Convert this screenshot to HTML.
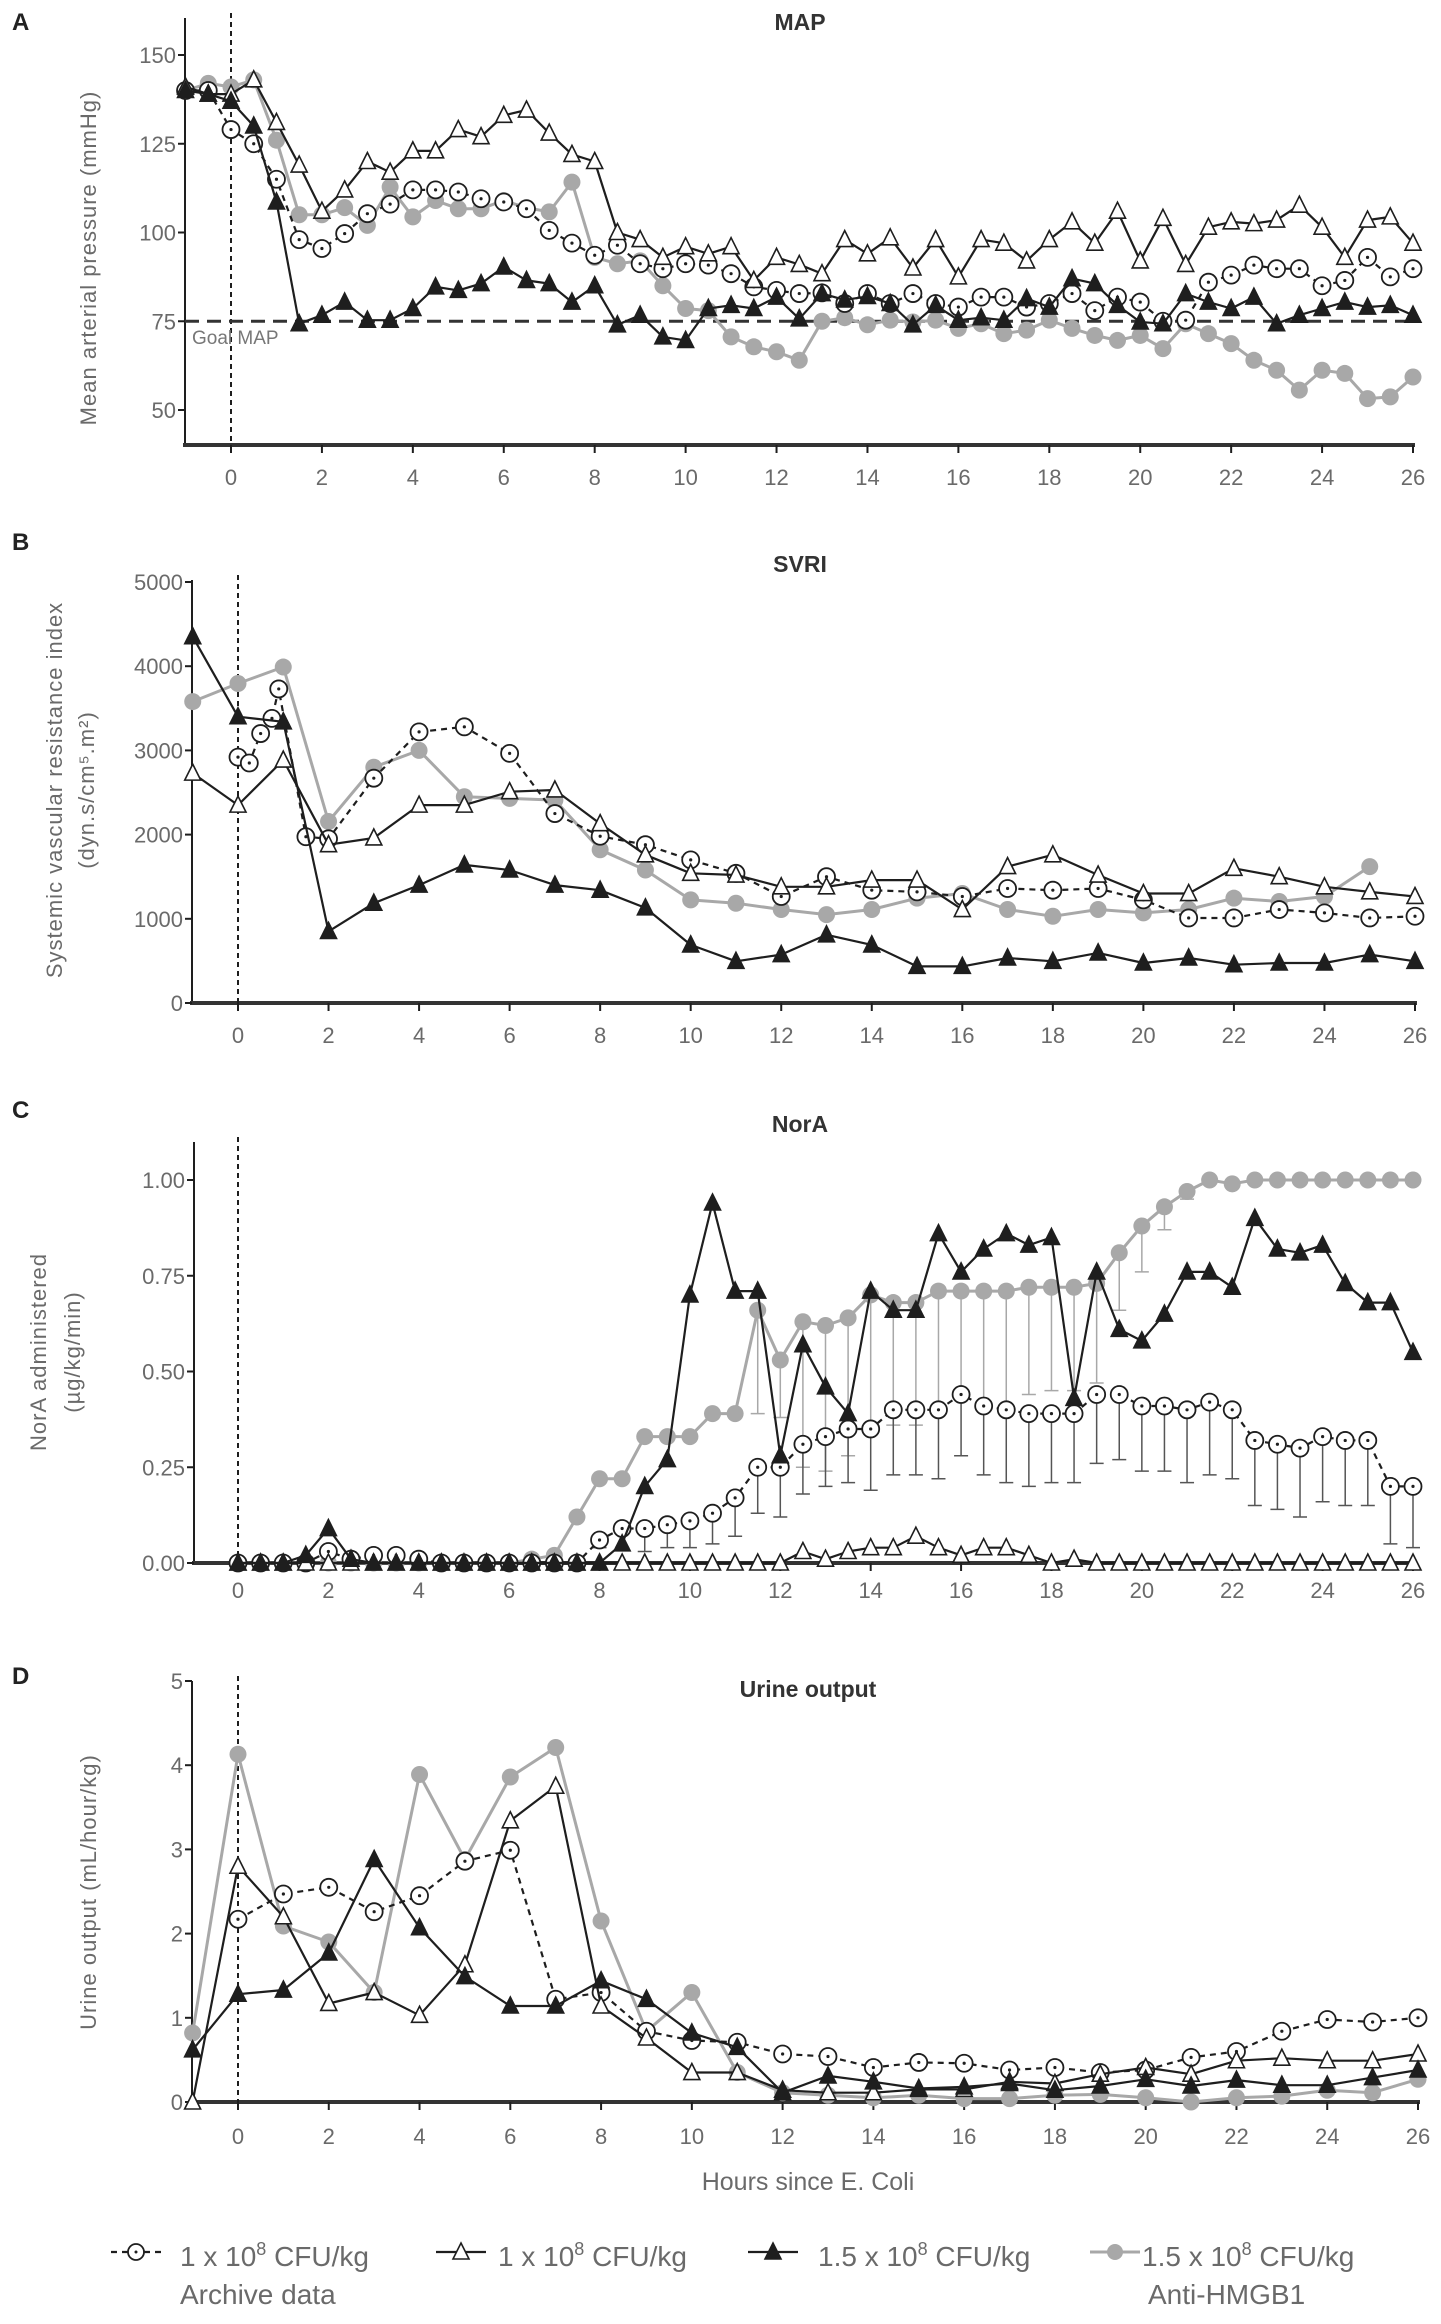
<!DOCTYPE html>
<html><head><meta charset="utf-8"><style>
html,body{margin:0;padding:0;background:#fff}
svg{display:block;font-family:"Liberation Sans",sans-serif}
</style></head><body>
<svg id="fig" width="1441" height="2324" viewBox="0 0 1441 2324" xmlns="http://www.w3.org/2000/svg"></svg>
<script>
// ---------- DATA ----------
const hoursHalf = [-1,-0.5,0,0.5,1,1.5,2,2.5,3,3.5,4,4.5,5,5.5,6,6.5,7,7.5,8,8.5,9,9.5,10,10.5,11,11.5,12,12.5,13,13.5,14,14.5,15,15.5,16,16.5,17,17.5,18,18.5,19,19.5,20,20.5,21,21.5,22,22.5,23,23.5,24,24.5,25,25.5,26];
const mapArchive = [140,140,129,125,115,98,95.5,99.7,105.3,108,112,112,111.4,109.5,108.6,106.7,100.6,97,93.6,96.4,91.2,89.8,91.2,90.8,88.4,84.7,83.7,82.8,83,80,82.8,80,82.8,80,79,81.8,81.8,79,80,82.8,78,81.8,80.4,75,75.3,86,88,90.8,89.8,89.8,85,86.5,93,87.5,89.8];
const mapLow = [141,139,139,143,131,119,106,112,120,117,123,123,129,127,133,134.5,128,122,120,100,98,93,96,94,96,86.5,93,91,88.4,98,94,98.5,90,98,87.5,98,97,92,98,103,97,106,92,104,91,101.5,103,102.5,103.5,107.7,101.5,93,103.5,104.4,97];
const mapHigh = [140,139,137,130,108.6,74.3,76.7,80.4,75.3,75.3,78.6,84.7,83.7,85.6,90.3,86.5,85.6,80.4,85,74,76.7,70.6,69.6,78.6,79.5,78.6,81.8,75.7,82.8,81,82,80,74,79.5,75.3,76,75.3,81.4,79,87,85.6,79.5,74.8,74.3,82.8,80.4,78.6,81.8,74.3,76.7,78.6,80.4,79,79.5,76.7];
const mapHmgb = [140,142,141,143,126,105,105,107,102,112.8,104.4,109,106.7,106.7,109,107,105.8,114.2,93,91.2,92,85,78.6,78,70.6,67.8,66.4,64,75,76,74,75.3,74.8,75.3,73,74.3,71.5,72.5,75.3,73,71,69.6,71,67.3,74.3,71.5,68.7,64,61.2,55.6,61.2,60.3,53.2,53.7,59.3];
const mapTicks = [50,75,100,125,150];

const hoursFull = [-1,0,1,2,3,4,5,6,7,8,9,10,11,12,13,14,15,16,17,18,19,20,21,22,23,24,25,26];
const svriArchiveHours = [0,0.25,0.5,0.75,0.9,1.5,2,3,4,5,6,7,8,9,10,11,12,13,14,15,16,17,18,19,20,21,22,23,24,25,26];
const svriArchive = [2920,2850,3200,3380,3730,1975,1950,2670,3220,3280,2965,2250,1980,1880,1700,1540,1265,1500,1340,1320,1265,1360,1340,1360,1225,1010,1010,1110,1070,1010,1030];
const svriLow = [2730,2350,2885,1880,1960,2350,2350,2510,2530,2130,1760,1540,1520,1380,1380,1460,1460,1110,1620,1760,1520,1300,1300,1600,1500,1380,1320,1265];
const svriHigh = [4350,3400,3340,850,1185,1400,1640,1580,1400,1340,1130,690,495,575,810,690,435,435,535,495,595,475,535,455,475,475,575,495];
const svriHmgbHours = [-1,0,1,2,3,4,5,6,7,8,9,10,11,12,13,14,15,16,17,18,19,20,21,22,23,24,25];
const svriHmgb = [3580,3795,3990,2155,2800,3000,2450,2430,2410,1820,1580,1225,1185,1110,1050,1110,1245,1300,1110,1030,1110,1070,1110,1245,1205,1265,1620];
const svriTicks = [0,1000,2000,3000,4000,5000];

const hoursNor = [0,0.5,1,1.5,2,2.5,3,3.5,4,4.5,5,5.5,6,6.5,7,7.5,8,8.5,9,9.5,10,10.5,11,11.5,12,12.5,13,13.5,14,14.5,15,15.5,16,16.5,17,17.5,18,18.5,19,19.5,20,20.5,21,21.5,22,22.5,23,23.5,24,24.5,25,25.5,26];
const norArchive = [0,0,0,0,0.03,0.01,0.02,0.02,0.01,0,0,0,0,0,0,0,0.06,0.09,0.09,0.10,0.11,0.13,0.17,0.25,0.25,0.31,0.33,0.35,0.35,0.40,0.40,0.40,0.44,0.41,0.40,0.39,0.39,0.39,0.44,0.44,0.41,0.41,0.40,0.42,0.40,0.32,0.31,0.30,0.33,0.32,0.32,0.20,0.20];
const norArchiveErr = [0,0,0,0,0,0,0,0,0,0,0,0,0,0,0,0,0.02,0.05,0.06,0.06,0.07,0.08,0.10,0.12,0.13,0.13,0.13,0.14,0.16,0.17,0.17,0.18,0.16,0.18,0.19,0.19,0.18,0.18,0.18,0.17,0.17,0.17,0.19,0.19,0.18,0.17,0.17,0.18,0.17,0.17,0.17,0.15,0.16];
const norLow = [0,0,0,0,0,0,0,0,0,0,0,0,0,0,0,0,0,0,0,0,0,0,0,0,0,0.03,0.01,0.03,0.04,0.04,0.07,0.04,0.02,0.04,0.04,0.02,0,0.01,0,0,0,0,0,0,0,0,0,0,0,0,0,0,0];
const norHigh = [0,0,0,0.02,0.09,0.01,0,0,0,0,0,0,0,0,0,0,0,0.05,0.20,0.27,0.70,0.94,0.71,0.71,0.28,0.57,0.46,0.39,0.71,0.66,0.66,0.86,0.76,0.82,0.86,0.83,0.85,0.43,0.76,0.61,0.58,0.65,0.76,0.76,0.72,0.90,0.82,0.81,0.83,0.73,0.68,0.68,0.55];
const norHmgb = [0,0,0,0,0,0,0,0,0,0,0,0,0,0.01,0.02,0.12,0.22,0.22,0.33,0.33,0.33,0.39,0.39,0.66,0.53,0.63,0.62,0.64,0.70,0.68,0.68,0.71,0.71,0.71,0.71,0.72,0.72,0.72,0.73,0.81,0.88,0.93,0.97,1.0,0.99,1.0,1.0,1.0,1.0,1.0,1.0,1.0,1.0];
const norHmgbErr = [0,0,0,0,0,0,0,0,0,0,0,0,0,0,0,0,0,0,0,0,0,0,0,0.27,0.15,0.38,0.38,0.36,0.35,0.32,0.32,0.30,0.27,0.30,0.30,0.28,0.27,0.27,0.26,0.15,0.12,0.06,0.02,0,0,0,0,0,0,0,0,0,0];
const norTicks = [0,0.25,0.5,0.75,1.0];
const norTickLabels = ["0.00","0.25","0.50","0.75","1.00"];

const urineArchiveHours = [0,1,2,3,4,5,6,7,8,9,10,11,12,13,14,15,16,17,18,19,20,21,22,23,24,25,26];
const urineArchive = [2.17,2.47,2.55,2.26,2.45,2.86,2.99,1.22,1.30,0.84,0.73,0.71,0.57,0.54,0.41,0.47,0.46,0.38,0.41,0.35,0.38,0.53,0.60,0.84,0.98,0.95,1.0];
const urineLow = [0,2.80,2.2,1.17,1.30,1.03,1.63,3.34,3.75,1.14,0.76,0.35,0.35,0.14,0.11,0.11,0.15,0.15,0.24,0.22,0.33,0.41,0.33,0.49,0.52,0.49,0.49,0.57];
const urineHigh = [0.62,1.28,1.33,1.77,2.88,2.07,1.49,1.14,1.14,1.44,1.22,0.82,0.65,0.11,0.31,0.24,0.16,0.18,0.22,0.14,0.19,0.27,0.19,0.26,0.20,0.20,0.29,0.38];
const urineHmgb = [0.82,4.13,2.09,1.90,1.30,3.89,2.88,3.86,4.21,2.15,0.84,1.30,0.35,0.11,0.08,0.05,0.08,0.04,0.04,0.08,0.09,0.05,0,0.05,0.07,0.14,0.11,0.27];
const urineTicks = [0,1,2,3,4,5];

const xTicks = [0,2,4,6,8,10,12,14,16,18,20,22,24,26];

// ---------- DRAWING ----------
const NS = "http://www.w3.org/2000/svg";
const svg = document.getElementById("fig");
const BLACK = "#1e1e1e", GRAY = "#a8a8a8", TXT = "#6a6a6a";
function mk(tag, attrs, parent) {
  const e = document.createElementNS(NS, tag);
  for (const k in attrs) e.setAttribute(k, attrs[k]);
  (parent || svg).appendChild(e);
  return e;
}
function txt(s, x, y, size, fill, anchor, parent, extra) {
  const t = mk("text", Object.assign({x: x, y: y, "font-size": size, fill: fill, "text-anchor": anchor || "middle"}, extra || {}), parent);
  t.textContent = s;
  return t;
}

function makeAxes(p) {
  const g = mk("g", {});
  
  
  p.xs = h => p.x0 + (p.x26 - p.x0) * h / 26;
  p.ys = v => p.yZero - (v - p.vZero) * p.pxPerUnit;
  const lt = txt(p.letter, 12, p.letterY, 24, "#222", "start", g, {"font-weight": "bold"});
  
  
  const tt = txt(p.title, p.titleX, p.titleY, 23, "#333", "middle", g, {"font-weight": "bold"});
  
  
  const ya = mk("line", {x1: p.axisX, x2: p.axisX, y1: p.axisTop, y2: p.axisBottom, stroke: BLACK, "stroke-width": 2}, g);
  
  
  const xa = mk("line", {x1: p.axisX - 2, x2: p.x26 + 2, y1: p.axisBottom, y2: p.axisBottom, stroke: "#333", "stroke-width": 4}, g);
  
  
  p.yTicks.forEach((v, i) => {
    const y = p.ys(v);
    mk("line", {x1: p.axisX - 7, x2: p.axisX, y1: y, y2: y, stroke: BLACK, "stroke-width": 2}, g);
    const l = txt(p.yLabels ? p.yLabels[i] : String(v), p.axisX - 9, y + 8, 22, TXT, "end", g);
    
    
  });
  xTicks.forEach(h => {
    const x = p.xs(h);
    mk("line", {x1: x, x2: x, y1: p.axisBottom, y2: p.axisBottom + 8, stroke: BLACK, "stroke-width": 2}, g);
    const l = txt(String(h), x, p.xLabelY, 22, TXT, "middle", g);
    
    
  });
  p.yTitle.forEach((s, i) => {
    const x = p.yTitleX[i];
    const t = txt(s, x, p.yTitleY, 22, TXT, "middle", g, {transform: "rotate(-90 " + x + " " + p.yTitleY + ")", "letter-spacing": "1"});
    
    
  });
  const zl = mk("line", {x1: p.xs(0), x2: p.xs(0), y1: p.axisTop - 5, y2: p.axisBottom, stroke: BLACK, "stroke-width": 2, "stroke-dasharray": "5,4"}, g);
  
  
  p.g = g;
  return p;
}

function errBars(p, hs, vals, errs, color) {
  hs.forEach((h, i) => {
    if (!errs[i]) return;
    const x = p.xs(h), y1 = p.ys(vals[i]), y2 = p.ys(vals[i] - errs[i]);
    const l = mk("path", {d: `M${x},${y1}V${y2}M${x-7},${y2}H${x+7}`, stroke: color, "stroke-width": 1.5, fill: "none"}, p.g);
    
    
  });
}

function series(p, hs, vals, kind, name) {
  const g = mk("g", {}, p.g);
  
  
  const col = kind === "hmgb" ? GRAY : BLACK;
  const d = hs.map((h, i) => (i ? "L" : "M") + p.xs(h).toFixed(1) + "," + p.ys(vals[i]).toFixed(1)).join("");
  const line = mk("path", {d: d, fill: "none", stroke: col, "stroke-width": kind === "hmgb" ? 3 : 2.2, "stroke-linejoin": "round"}, g);
  if (kind === "archive") line.setAttribute("stroke-dasharray", "6,5");
  
  
  hs.forEach((h, i) => {
    const x = p.xs(h), y = p.ys(vals[i]);
    let m;
    if (kind === "archive") {
      m = mk("circle", {cx: x, cy: y, r: 8.5, fill: "#fff", stroke: BLACK, "stroke-width": 1.8}, g);
      mk("circle", {cx: x, cy: y, r: 1.6, fill: BLACK}, g);
    } else if (kind === "hmgb") {
      m = mk("circle", {cx: x, cy: y, r: 8.5, fill: GRAY}, g);
    } else {
      const s = 8;
      m = mk("path", {d: `M${x},${y-s-1}L${x+s},${y+s-1}L${x-s},${y+s-1}Z`, fill: kind === "high" ? BLACK : "#fff", stroke: BLACK, "stroke-width": 1.6}, g);
    }
    
    
  });
}

// Panel A
const A = makeAxes({name: "map", letter: "A", letterY: 30, title: "MAP", titleX: 800, titleY: 30,
  axisX: 185, axisTop: 18, axisBottom: 445, x0: 231, x26: 1413,
  yZero: 410, vZero: 50, pxPerUnit: 3.55, yTicks: mapTicks, xLabelY: 485,
  yTitle: ["Mean arterial pressure (mmHg)"], yTitleX: [96], yTitleY: 258});
const goal = mk("line", {x1: A.axisX, x2: A.x26, y1: A.ys(75), y2: A.ys(75), stroke: "#333", "stroke-width": 3, "stroke-dasharray": "14,8"}, A.g);


const gt = txt("Goal MAP", 192, 344, 19, "#777", "start", A.g);


series(A, hoursHalf, mapHmgb, "hmgb", "map-anti-hmgb1");
series(A, hoursHalf, mapArchive, "archive", "map-archive");
series(A, hoursHalf, mapLow, "low", "map-1e8");
series(A, hoursHalf, mapHigh, "high", "map-1-5e8");

// Panel B
const B = makeAxes({name: "svri", letter: "B", letterY: 550, title: "SVRI", titleX: 800, titleY: 572,
  axisX: 192, axisTop: 580, axisBottom: 1003, x0: 238, x26: 1415,
  yZero: 1003, vZero: 0, pxPerUnit: 421/5000, yTicks: svriTicks, xLabelY: 1043,
  yTitle: ["Systemic vascular resistance index", "(dyn.s/cm\u2075.m\u00B2)"], yTitleX: [62, 94], yTitleY: 790});
series(B, svriHmgbHours, svriHmgb, "hmgb", "svri-anti-hmgb1");
series(B, svriArchiveHours, svriArchive, "archive", "svri-archive");
series(B, hoursFull, svriLow, "low", "svri-1e8");
series(B, hoursFull, svriHigh, "high", "svri-1-5e8");

// Panel C
const C = makeAxes({name: "nora", letter: "C", letterY: 1118, title: "NorA", titleX: 800, titleY: 1132,
  axisX: 194, axisTop: 1142, axisBottom: 1563, x0: 238, x26: 1413,
  yZero: 1563, vZero: 0, pxPerUnit: 383, yTicks: norTicks, yLabels: norTickLabels, xLabelY: 1598,
  yTitle: ["NorA administered", "(\u00B5g/kg/min)"], yTitleX: [46, 80], yTitleY: 1352});
errBars(C, hoursNor, norHmgb, norHmgbErr, GRAY);
errBars(C, hoursNor, norArchive, norArchiveErr, "#555");
series(C, hoursNor, norHmgb, "hmgb", "nora-anti-hmgb1");
series(C, hoursNor, norArchive, "archive", "nora-archive");
series(C, hoursNor, norLow, "low", "nora-1e8");
series(C, hoursNor, norHigh, "high", "nora-1-5e8");

// Panel D
const D = makeAxes({name: "urine", letter: "D", letterY: 1684, title: "Urine output", titleX: 808, titleY: 1697,
  axisX: 192, axisTop: 1681, axisBottom: 2102, x0: 238, x26: 1418,
  yZero: 2102, vZero: 0, pxPerUnit: 421/5, yTicks: urineTicks, xLabelY: 2144,
  yTitle: ["Urine output (mL/hour/kg)"], yTitleX: [96], yTitleY: 1892});
const xt = txt("Hours since E. Coli", 808, 2190, 25, TXT, "middle", D.g);


series(D, hoursFull, urineHmgb, "hmgb", "urine-anti-hmgb1");
series(D, urineArchiveHours, urineArchive, "archive", "urine-archive");
series(D, hoursFull, urineLow, "low", "urine-1e8");
series(D, hoursFull, urineHigh, "high", "urine-1-5e8");

// Legend
const lg = mk("g", {});


function legendEntry(kind, sx, tx, line2, l2x, name) {
  const g = mk("g", {}, lg);
  
  
  const y = 2252, col = kind === "hmgb" ? GRAY : BLACK;
  const ln = mk("line", {x1: sx, x2: sx + 50, y1: y, y2: y, stroke: col, "stroke-width": kind === "hmgb" ? 3 : 2.2}, g);
  if (kind === "archive") ln.setAttribute("stroke-dasharray", "6,5");
  const cx = sx + 25;
  if (kind === "archive") { mk("circle", {cx: cx, cy: y, r: 8, fill: "#fff", stroke: BLACK, "stroke-width": 1.8}, g); mk("circle", {cx: cx, cy: y, r: 1.5, fill: BLACK}, g); }
  else if (kind === "hmgb") mk("circle", {cx: cx, cy: y, r: 8, fill: GRAY}, g);
  else mk("path", {d: `M${cx},${y-9}L${cx+8},${y+7}L${cx-8},${y+7}Z`, fill: kind === "high" ? BLACK : "#fff", stroke: BLACK, "stroke-width": 1.6}, g);
  const t = mk("text", {x: tx, y: y + 14, "font-size": 28, fill: TXT}, g);
  t.innerHTML = (kind === "high" || kind === "hmgb" ? "1.5" : "1") + ' x 10<tspan dy="-11" font-size="18">8</tspan><tspan dy="11"> CFU/kg</tspan>';
  if (line2) txt(line2, l2x, y + 52, 28, TXT, "start", g);
}
legendEntry("archive", 111, 180, "Archive data", 180, "legend-entry-archive");
legendEntry("low", 436, 498, null, 0, "legend-entry-1e8");
legendEntry("high", 748, 818, null, 0, "legend-entry-1-5e8");
legendEntry("hmgb", 1090, 1142, "Anti-HMGB1", 1148, "legend-entry-anti-hmgb1");
</script>
</body></html>
